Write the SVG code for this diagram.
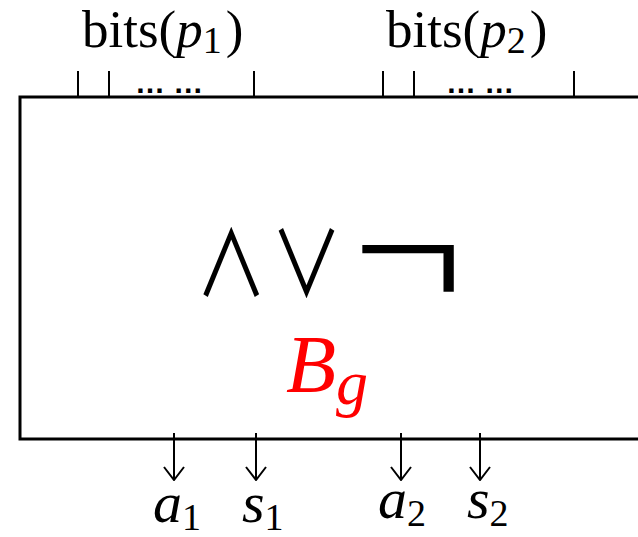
<svg xmlns="http://www.w3.org/2000/svg" width="638" height="537" viewBox="0 0 638 537">
<defs>
<style>
.ln{stroke:#000;stroke-width:3;fill:none}
.tk{stroke:#000;stroke-width:2;fill:none}
.ar{stroke:#000;stroke-width:2;fill:none}
.lbl{font-family:"Liberation Serif",serif;font-size:53px;fill:#000}
.it{font-style:italic}
.dots{font-family:"Liberation Sans",sans-serif;font-size:30px;font-weight:bold;fill:#000}
.ops{font-family:"Noto Sans CJK SC","DejaVu Sans",sans-serif;font-size:90px;fill:#000}
.var{font-family:"Liberation Serif",serif;font-style:italic;font-size:58px;fill:#000}
.sub{font-family:"Liberation Serif",serif;font-style:normal;font-size:38px;fill:#000}
</style>
<marker id="arr" viewBox="0 0 16 24" refX="15" refY="12" markerWidth="16" markerHeight="24" markerUnits="userSpaceOnUse" orient="auto">
<path d="M2,2 L15,12 L2,22" stroke="#000" stroke-width="2" fill="none"/>
</marker>
</defs>
<g id="box">
<path class="ln" d="M640,97 H20 V439 H640"/>
<g transform="scale(0.8,1)">
<text class="ops" y="296"><tspan x="244">∧</tspan><tspan x="338">∨</tspan></text>
</g>
<g transform="translate(355,313) scale(1.14,1)">
<text class="ops" x="0" y="0" style="font-size:174px;font-weight:300">¬</text>
</g>
<text x="286" y="392" font-family="Liberation Serif,serif" font-style="italic" font-size="82" fill="#ff0000">B<tspan font-size="64" dy="12">g</tspan></text>
</g>
<g id="input-p1">
<text class="lbl" x="82" y="47">bits(<tspan class="it">p</tspan><tspan font-size="38" dy="6">1</tspan><tspan dy="-6" dx="4">)</tspan></text>
<line class="tk" x1="78" y1="71" x2="78" y2="97"/>
<line class="tk" x1="109" y1="71" x2="109" y2="97"/>
<line class="tk" x1="254" y1="71" x2="254" y2="97"/>
<text class="dots" x="135" y="93">… …</text>
</g>
<g id="input-p2">
<text class="lbl" x="386" y="47">bits(<tspan class="it">p</tspan><tspan font-size="38" dy="6">2</tspan><tspan dy="-6" dx="4">)</tspan></text>
<line class="tk" x1="383" y1="71" x2="383" y2="97"/>
<line class="tk" x1="414" y1="71" x2="414" y2="97"/>
<line class="tk" x1="574" y1="71" x2="574" y2="97"/>
<text class="dots" x="446" y="93">… …</text>
</g>
<g id="connectors">
<line class="ar" x1="174" y1="433" x2="174" y2="480" marker-end="url(#arr)"/>
<line class="ar" x1="256" y1="433" x2="256" y2="480" marker-end="url(#arr)"/>
<line class="ar" x1="401" y1="433" x2="401" y2="480" marker-end="url(#arr)"/>
<line class="ar" x1="480" y1="433" x2="480" y2="480" marker-end="url(#arr)"/>
</g>
<g id="out-a1"><text class="var" x="153" y="522">a<tspan class="sub" dy="8">1</tspan></text></g>
<g id="out-s1"><text class="var" x="242" y="522">s<tspan class="sub" dy="8">1</tspan></text></g>
<g id="out-a2"><text class="var" x="378" y="518">a<tspan class="sub" dy="8">2</tspan></text></g>
<g id="out-s2"><text class="var" x="467" y="518">s<tspan class="sub" dy="8">2</tspan></text></g>
</svg>
